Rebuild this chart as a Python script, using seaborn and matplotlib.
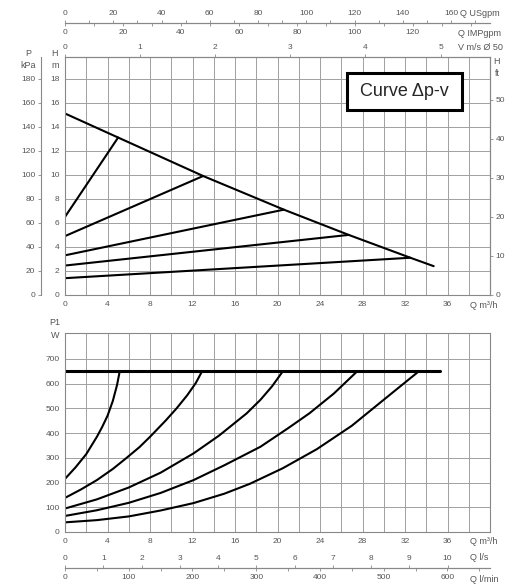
import matplotlib
matplotlib.use("Agg")
import matplotlib.pyplot as plt
from matplotlib.patches import Rectangle
from matplotlib import font_manager
import seaborn as sns

# ---- values, flow Q in m3/h ----
# head chart: proportional-pressure envelope (H in m)
env_q = [0, 5.0, 13.0, 20.6, 26.7, 32.5, 34.7]
env_h = [15.1, 13.1, 9.9, 7.1, 5.0, 3.1, 2.4]

# the five curves start at Q=0 and end on the envelope
curve_h0 = [6.5, 4.9, 3.3, 2.45, 1.4]
curve_end_q = [5.0, 13.0, 20.6, 26.7, 32.5]
curve_end_h = [13.1, 9.9, 7.1, 5.0, 3.1]

# power chart (P1 in W)
pmax_q = [0, 35.3]
pmax_w = [650, 650]
power_q = [
    [0, 1.0, 2.0, 3.0, 3.5, 4.0, 4.5, 4.9, 5.15],
    [0, 1.5, 3.0, 4.5, 5.8, 7.0, 8.0, 9.5, 10.5, 11.5, 12.3, 12.9],
    [0, 3.0, 6.0, 9.0, 12.1, 14.5, 17.1, 18.4, 19.5, 20.5],
    [0, 3.0, 6.0, 9.0, 12.1, 15.0, 18.4, 21.0, 23.0, 25.3, 27.5],
    [0, 3.0, 6.0, 9.0, 12.1, 15.0, 17.4, 20.5, 23.7, 27.0, 30.0, 33.3],
]
power_w = [
    [215, 262, 315, 385, 425, 470, 530, 595, 650],
    [138, 172, 210, 255, 300, 343, 385, 452, 500, 553, 602, 650],
    [95, 132, 180, 240, 318, 390, 480, 535, 590, 650],
    [65, 88, 118, 158, 210, 270, 345, 420, 480, 560, 650],
    [39, 48, 63, 87, 117, 155, 195, 258, 335, 430, 535, 650],
]

# tick labels
q_ticks = list(range(0, 37, 4))
h_ticks = list(range(0, 19, 2))
kpa_ticks = list(range(0, 181, 20))
ft_ticks = list(range(0, 51, 10))
usgpm_ticks = list(range(0, 161, 20))
impgpm_ticks = list(range(0, 121, 20))
v_ticks = [0, 1, 2, 3, 4, 5]
w_ticks = list(range(0, 701, 100))
ls_ticks = list(range(0, 11))
lmin_ticks = list(range(0, 601, 100))

sns.set_style("white")
avail = {f.name for f in font_manager.fontManager.ttflist}
plt.rcParams["font.family"] = ["Liberation Sans", "DejaVu Sans"]
narrow = "Liberation Sans Narrow" if "Liberation Sans Narrow" in avail else "Liberation Sans"

W, H = 517, 588
fig = plt.figure(figsize=(W / 100, H / 100), dpi=100)
TXT = "#555555"
GRID = "#a0a0a0"
FS = 6


def px_axes(left, top, right, bottom):
    return fig.add_axes([left / W, 1 - bottom / H, (right - left) / W, (bottom - top) / H])


def style(ax):
    for s in ax.spines.values():
        s.set_color("#888888")
        s.set_linewidth(0.8)
    ax.tick_params(which="both", labelsize=FS, labelcolor=TXT, color="#888888",
                   length=2, width=0.6, pad=2)


ax1 = px_axes(65, 57, 490, 295)
ax2 = px_axes(65, 333, 490, 532)

# ---------------- head chart ----------------
sns.lineplot(x=env_q, y=env_h, ax=ax1, color="black", lw=1.5, sort=False, estimator=None)
for h0, q1, h1 in zip(curve_h0, curve_end_q, curve_end_h):
    sns.lineplot(x=[0, q1], y=[h0, h1], ax=ax1, color="black", lw=1.5, sort=False, estimator=None)

ax1.set_xlim(0, 40)
ax1.set_ylim(0, 19.8)
ax1.set_xticks(q_ticks)
ax1.set_xticks(range(0, 41, 2), minor=True)
ax1.set_yticks(h_ticks)
ax1.grid(True, which="both", axis="x", color=GRID, lw=0.7)
ax1.grid(True, which="major", axis="y", color=GRID, lw=0.7)
style(ax1)

kpa = ax1.secondary_yaxis(-24 / 425, functions=(lambda m: m * 10, lambda p: p / 10))
kpa.set_yticks(kpa_ticks)
style(kpa)

ft = ax1.secondary_yaxis("right", functions=(lambda m: m * 3.08, lambda f: f / 3.08))
ft.set_yticks(ft_ticks)
style(ft)

vel = ax1.secondary_xaxis("top", functions=(lambda q: q / 7.0686, lambda v: v * 7.0686))
vel.set_xticks(v_ticks)
style(vel)

loc_top = 1 + 34 / 238
us = ax1.secondary_xaxis(loc_top, functions=(lambda q: q * 4.403, lambda g: g / 4.403))
us.set_xticks(usgpm_ticks)
us.set_xticks(range(0, 171, 10), minor=True)
style(us)
imp = ax1.secondary_xaxis(loc_top, functions=(lambda q: q * 3.666, lambda g: g / 3.666))
imp.set_alignment("bottom")
imp.set_xticks(impgpm_ticks)
imp.set_xticks(range(0, 141, 10), minor=True)
style(imp)

box = Rectangle(((347 - 65) / 425, (295 - 110) / 238), 115 / 425, 37 / 238,
                transform=ax1.transAxes, fc="white", ec="black", lw=2.2, zorder=5)
ax1.add_patch(box)
ax1.text((404.5 - 65) / 425, (295 - 91.5) / 238, "Curve \u0394p-v", transform=ax1.transAxes,
         ha="center", va="center", fontsize=13, family=[narrow, "DejaVu Sans"], zorder=6)


def ftext(x, y, s, ha="left"):
    fig.text(x / W, 1 - y / H, s, fontsize=FS + 0.5, color=TXT, ha=ha, va="center")


ftext(28, 53, "P", "center")
ftext(28, 65, "kPa", "center")
ftext(55, 53, "H", "center")
ftext(55, 65, "m", "center")
ftext(496, 61, "H", "center")
ftext(497, 73, "ft", "center")
ftext(470, 305, "Q m\u00b3/h")
ftext(460, 14, "Q USgpm")
ftext(458, 33, "Q IMPgpm")
ftext(458, 47, "V m/s \u00d8 50")

# ---------------- power chart ----------------
sns.lineplot(x=pmax_q, y=pmax_w, ax=ax2, color="black", lw=2.2, sort=False, estimator=None)
for qs, ws in zip(power_q, power_w):
    sns.lineplot(x=qs, y=ws, ax=ax2, color="black", lw=1.5, sort=False, estimator=None)

ax2.set_xlim(0, 40)
ax2.set_ylim(0, 805)
ax2.set_xticks(q_ticks)
ax2.set_xticks(range(0, 41, 2), minor=True)
ax2.set_yticks(w_ticks)
ax2.grid(True, which="both", axis="x", color=GRID, lw=0.7)
ax2.grid(True, which="major", axis="y", color=GRID, lw=0.7)
style(ax2)

loc_bot = -(568 - 532) / 199
ls = ax2.secondary_xaxis(loc_bot, functions=(lambda q: q / 3.6, lambda l: l * 3.6))
ls.set_alignment("top")
ls.set_xticks(ls_ticks)
style(ls)
lmin = ax2.secondary_xaxis(loc_bot, functions=(lambda q: q * 16.667, lambda l: l / 16.667))
lmin.set_xticks(lmin_ticks)
lmin.set_xticks(range(0, 701, 50), minor=True)
style(lmin)

ftext(55, 322, "P1", "center")
ftext(55, 335, "W", "center")
ftext(470, 541, "Q m\u00b3/h")
ftext(470, 557, "Q l/s")
ftext(470, 579, "Q l/min")

fig.savefig("out.png", dpi=100)
